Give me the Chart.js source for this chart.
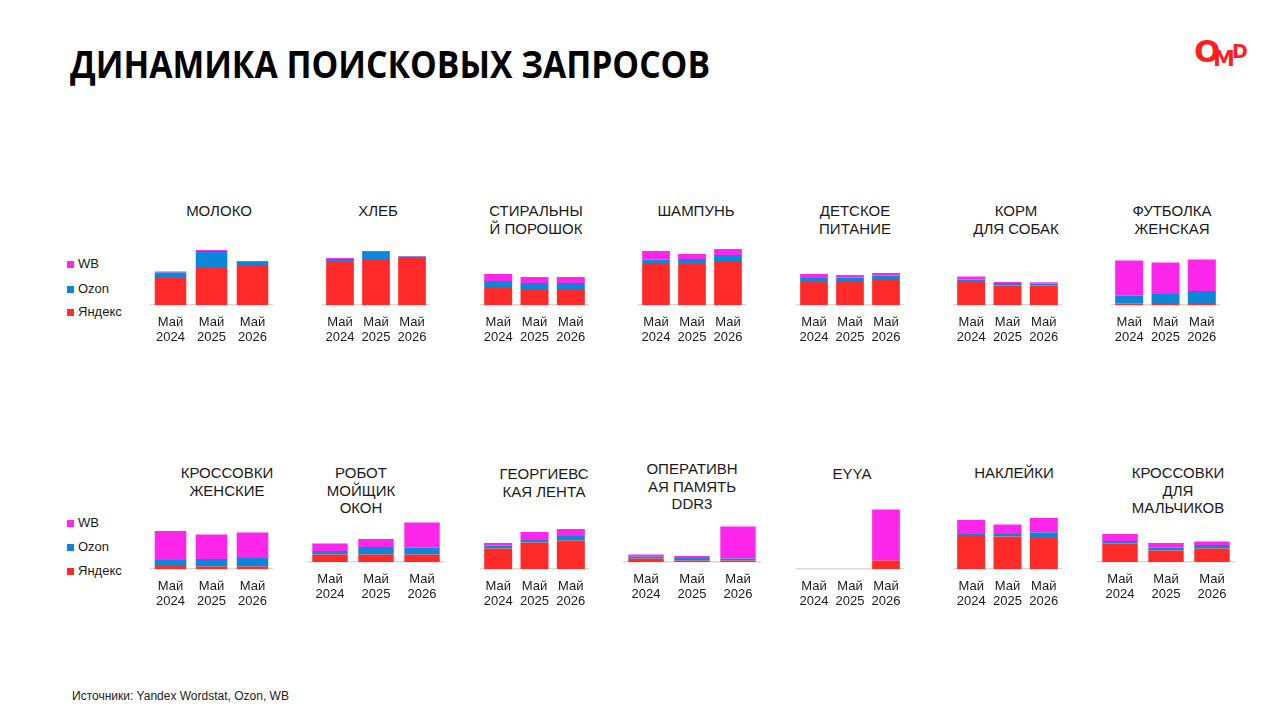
<!DOCTYPE html>
<html lang="ru">
<head>
<meta charset="utf-8">
<title>Динамика поисковых запросов</title>
<script src="https://cdn.jsdelivr.net/npm/chart.js@4.4.1/dist/chart.umd.min.js"></script>
<style>
  html, body { margin: 0; padding: 0; background: #fff; }
  body { width: 1280px; height: 720px; position: relative; overflow: hidden; font-family: 'Liberation Sans', Arial, sans-serif; color: #1a1a1a; }
  #header { position: absolute; left: 70px; top: 40px; font-family: 'Open Sans', sans-serif; font-weight: 700; font-size: 38px; line-height: 46px; color: #000; white-space: nowrap; transform-origin: left center; }
  #logo { position: absolute; left: 1193px; top: 36px; width: 60px; height: 40px; color: #ff1f1f; font-family: 'DejaVu Sans', sans-serif; font-weight: 700; }
  #logo span { position: absolute; line-height: 1; }
  .panel-title { position: absolute; width: 170px; margin-left: -85px; text-align: center; font-size: 15px; line-height: 17.5px; white-space: nowrap; }
  .panel-canvas { position: absolute; }
  .legend-item { position: absolute; left: 67px; font-size: 13px; line-height: 16px; }
  .legend-item i { position: absolute; left: 0; top: 4.5px; width: 7px; height: 7px; }
  .legend-item span { position: absolute; left: 11px; top: 0; white-space: nowrap; }
  #footer { position: absolute; left: 72px; top: 689px; font-size: 12px; line-height: 15px; color: #222; }
</style>
</head>
<body>
<div id="header">ДИНАМИКА ПОИСКОВЫХ ЗАПРОСОВ</div>
<div id="logo"><span style="left:1px;top:0;font-size:31px;">O</span><span style="left:20px;top:12px;font-size:22px;">M</span><span style="left:39px;top:6px;font-size:19px;">D</span></div>
<div id="footer">Источники: Yandex Wordstat, Ozon, WB</div>

<script>
// подписи и данные (высота сегментов в условных единицах)
const panelTitles = [
    ['МОЛОКО'], ['ХЛЕБ'], ['СТИРАЛЬНЫ', 'Й ПОРОШОК'], ['ШАМПУНЬ'], ['ДЕТСКОЕ', 'ПИТАНИЕ'], ['КОРМ', 'ДЛЯ СОБАК'], ['ФУТБОЛКА', 'ЖЕНСКАЯ'],
    ['КРОССОВКИ', 'ЖЕНСКИЕ'], ['РОБОТ', 'МОЙЩИК', 'ОКОН'], ['ГЕОРГИЕВС', 'КАЯ ЛЕНТА'], ['ОПЕРАТИВН', 'АЯ ПАМЯТЬ', 'DDR3'], ['EYYA'], ['НАКЛЕЙКИ'], ['КРОССОВКИ', 'ДЛЯ', 'МАЛЬЧИКОВ']
];
const periods = [['Май', '2024'], ['Май', '2025'], ['Май', '2026']];
const seriesNames = ['Яндекс', 'Ozon', 'WB'];
const seriesColors = ['#ff2b2b', '#0b87d9', '#ff26ec'];

const yandexData = [
    [27, 37, 40], [44, 46, 47], [18, 16, 16], [42, 41, 44], [23, 24, 26], [23, 19.5, 19.5], [1.5, 1, 1],
    [3, 2.5, 2.5], [7.5, 7.5, 7.5], [20.5, 26.5, 28.5], [3.5, 1.5, 1.5], [0, 0, 8.5], [33, 32.5, 31], [18.5, 11.5, 13.5]
];
const ozonData = [
    [5.5, 17, 3], [2, 7, 1.5], [6, 6, 6], [3.5, 5, 6], [4, 3.5, 3.5], [2.5, 2.5, 2], [8, 10, 13],
    [6, 7.5, 8.5], [3.5, 7.5, 7], [3, 2.5, 4.5], [2, 2.5, 2], [0, 0, 0], [2, 2.5, 5.5], [2.5, 3, 3.5]
];
const wbData = [
    [1, 1, 1], [1, 1, 0.5], [7, 6, 6], [8.5, 5, 6], [4, 2.5, 2.5], [3, 1, 1.2], [35, 31.5, 31.5],
    [29, 24.5, 25.5], [7.5, 8, 25], [2.5, 8, 7], [2, 2, 32], [0, 0, 51], [14, 9.5, 14.5], [7, 4.5, 3.5]
];
const yMax = 70;

// раскладка панелей на слайде: ось x (лево/право/низ) и центр заголовка
const panelLayout = [
    { l: 150, r: 273, base: 305, tx: 219, ty: 211 },
    { l: 322, r: 430, base: 305, tx: 378, ty: 211 },
    { l: 480, r: 589, base: 305, tx: 536, ty: 211 },
    { l: 638, r: 746, base: 305, tx: 696, ty: 211 },
    { l: 796, r: 904, base: 305, tx: 855, ty: 211 },
    { l: 953, r: 1062, base: 305, tx: 1016, ty: 211 },
    { l: 1111, r: 1220, base: 305, tx: 1172, ty: 211 },
    { l: 150, r: 273, base: 569, tx: 227, ty: 473 },
    { l: 307, r: 445, base: 562, tx: 361, ty: 473 },
    { l: 480, r: 589, base: 569, tx: 544, ty: 474 },
    { l: 623, r: 761, base: 562, tx: 692, ty: 469 },
    { l: 796, r: 904, base: 569, tx: 852, ty: 474 },
    { l: 953, r: 1062, base: 569, tx: 1014, ty: 473 },
    { l: 1097, r: 1235, base: 562, tx: 1178, ty: 473 }
];
const legendRows = [
    [264, 289, 312],
    [523, 547, 571]
];

const allSeries = [yandexData, ozonData, wbData];
const LABEL_AREA = 45;

function fitHeader() {
    const h = document.getElementById('header');
    const w = h.getBoundingClientRect().width;
    h.style.transform = 'scaleX(' + (640 / w) + ')';
}

function renderLegends() {
    legendRows.forEach(row => {
        // сверху вниз: WB, Ozon, Яндекс
        [2, 1, 0].forEach((s, k) => {
            const item = document.createElement('div');
            item.className = 'legend-item';
            item.style.top = (row[k] - 8) + 'px';
            item.innerHTML = `<i style="background:${seriesColors[s]}"></i><span>${seriesNames[s]}</span>`;
            document.body.appendChild(item);
        });
    });
}

function renderPanels() {
    panelTitles.forEach((lines, i) => {
        const lay = panelLayout[i];

        let title = document.createElement('div');
        title.className = 'panel-title';
        title.style.left = lay.tx + 'px';
        title.style.top = (lay.ty - 9) + 'px';
        title.innerHTML = lines.join('<br>');
        document.body.appendChild(title);

        const w = lay.r - lay.l;
        const h = yMax + LABEL_AREA;
        let canvas = document.createElement('canvas');
        canvas.className = 'panel-canvas';
        canvas.width = w;
        canvas.height = h;
        canvas.style.width = w + 'px';
        canvas.style.height = h + 'px';
        canvas.style.left = lay.l + 'px';
        canvas.style.top = (lay.base - yMax) + 'px';
        document.body.appendChild(canvas);

        new Chart(canvas, {
            type: 'bar',
            data: {
                labels: periods,
                datasets: seriesNames.map((name, s) => ({
                    label: name,
                    data: allSeries[s][i],
                    backgroundColor: seriesColors[s],
                    borderWidth: 0,
                    barPercentage: 0.77,
                    categoryPercentage: 1
                }))
            },
            options: {
                responsive: false, maintainAspectRatio: false, animation: false,
                layout: { padding: 0 },
                plugins: { legend: { display: false }, tooltip: { enabled: false } },
                scales: {
                    x: {
                        stacked: true,
                        grid: { display: false, drawTicks: false },
                        border: { display: true, color: '#d9d9d9', width: 1.5 },
                        ticks: { color: '#1a1a1a', padding: 10, maxRotation: 0, autoSkip: false,
                                 font: { family: "'Liberation Sans', Arial, sans-serif", size: 13, lineHeight: 1.15 } },
                        afterFit: scale => {
                            // подписи помещаются в свои категории, лишние поля не нужны
                            scale.height = LABEL_AREA;
                            scale.paddingLeft = 0;
                            scale.paddingRight = 0;
                        }
                    },
                    y: { stacked: true, display: false, min: 0, max: yMax }
                }
            }
        });
    });
}

fitHeader();
renderLegends();
renderPanels();
</script>
</body>
</html>
